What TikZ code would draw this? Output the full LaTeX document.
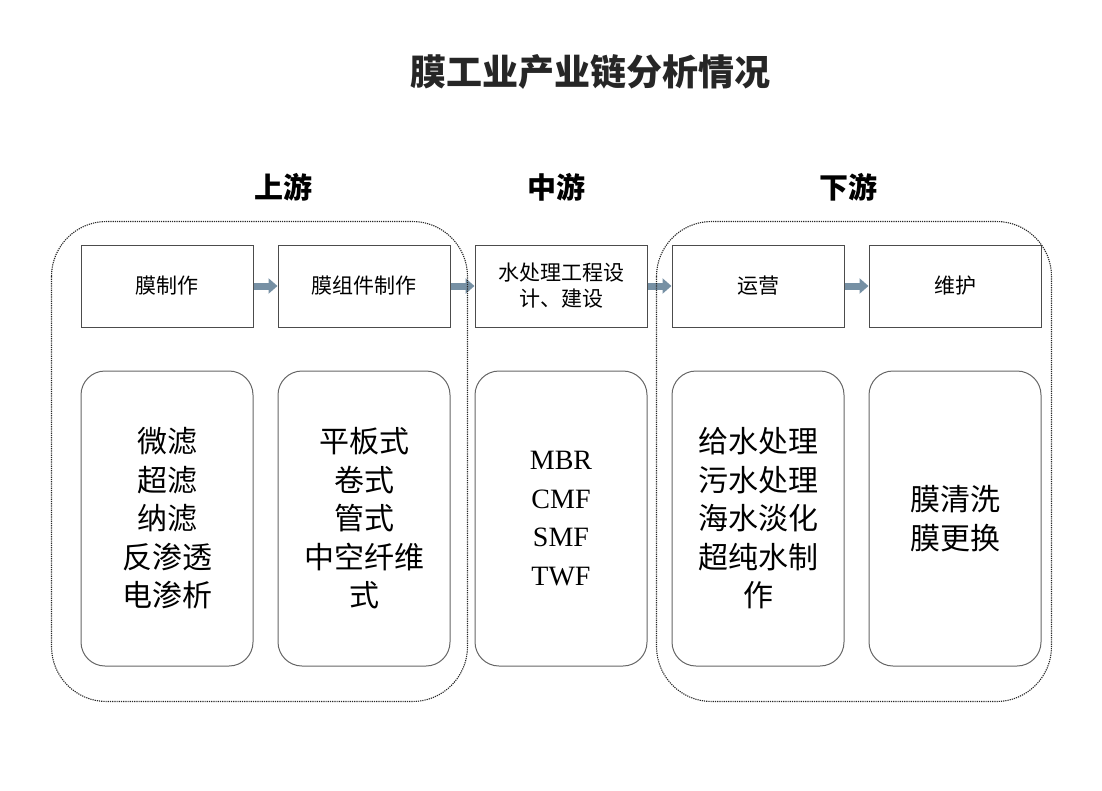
\documentclass[tikz,border=0pt]{standalone}
\usepackage{fontspec}
\setmainfont{Liberation Serif}
\newfontfamily\cjk{Noto Sans CJK SC}
\usetikzlibrary{arrows.meta,positioning}
\definecolor{arrowblue}{RGB}{118,144,164}

\begin{document}
\begin{tikzpicture}[
  x=1pt, y=-1pt, font=\cjk, node distance=24pt,
  stagebox/.style={draw=black!70, line width=1pt, minimum width=172pt,
                   minimum height=82pt, inner sep=2pt, align=center,
                   font=\cjk\fontsize{21}{26}\selectfont},
  listbox/.style={draw=black!60, line width=1pt, rounded corners=24pt,
                  minimum width=172pt, minimum height=295pt, align=center,
                  font=\cjk\fontsize{30}{38.5}\selectfont},
  region/.style={dash pattern=on 1.2pt off 1pt, line width=1.1pt,
                 black!85, rounded corners=55pt},
  head/.style={font=\cjk\bfseries\fontsize{29}{34}\selectfont},
  arr/.style={-{Triangle[length=9pt,width=15pt]}, line width=7pt, arrowblue}
]
\useasboundingbox (0,0) rectangle (1102,790);

% title and stream headings
\node[font=\cjk\bfseries\fontsize{36}{40}\selectfont, text=black!85] (title)
  at (590,72) {膜工业产业链分析情况};
\node[head] (hup) at (283,187) {上游};
\node[head] (hmid) at (556,187) {中游};
\node[head] (hdown) at (848,187) {下游};

% stage row
\node[stagebox] (t1) at (167,286) {膜制作};
\node[stagebox, right=of t1] (t2) {膜组件制作};
\node[stagebox, right=of t2] (t3) {水处理工程设\\计、建设};
\node[stagebox, right=of t3] (t4) {运营};
\node[stagebox, right=of t4] (t5) {维护};
\foreach \a/\b in {t1/t2, t2/t3, t3/t4, t4/t5}
  \draw[arr] (\a.east) -- (\b.west);

% detail row
\node[listbox, below=43pt of t1] (b1) {微滤\\超滤\\纳滤\\反渗透\\电渗析};
\node[listbox, below=43pt of t2] (b2) {平板式\\卷式\\管式\\中空纤维\\式};
\node[listbox, below=43pt of t3, font=\rmfamily\fontsize{28}{38.5}\selectfont]
  (b3) {MBR\\CMF\\SMF\\TWF};
\node[listbox, below=43pt of t4] (b4) {给水处理\\污水处理\\海水淡化\\超纯水制\\作};
\node[listbox, below=43pt of t5] (b5) {膜清洗\\膜更换};

% upstream / downstream frames
\draw[region] ([shift={(-29,-23)}]t1.north west) rectangle
  ([shift={(17,35)}]b2.south east);
\draw[region] ([shift={(-15,-23)}]t4.north west) rectangle
  ([shift={(10,35)}]b5.south east);
\end{tikzpicture}
\end{document}
